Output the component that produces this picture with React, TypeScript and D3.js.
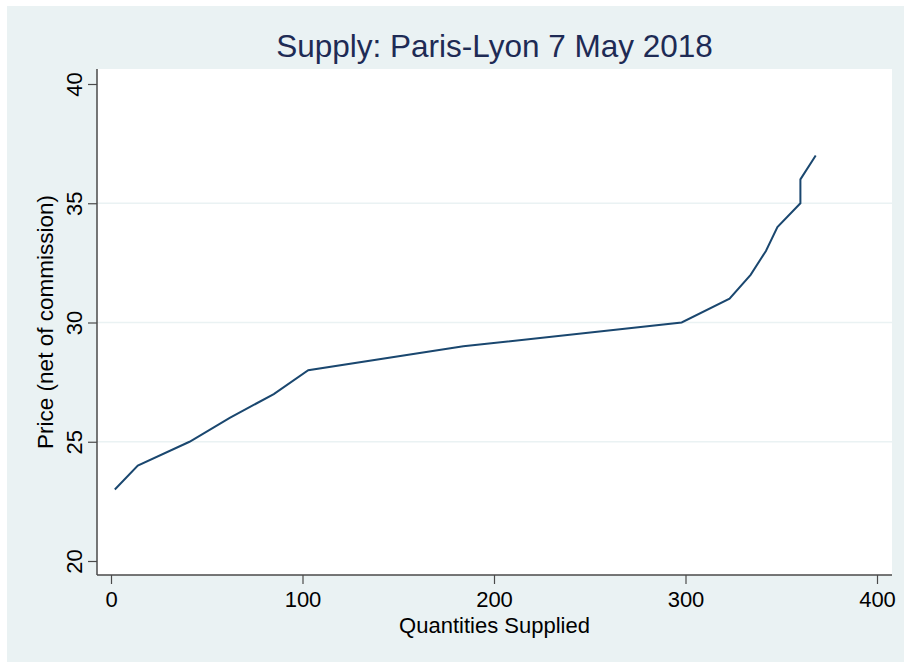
import React, { useRef, useEffect } from "react";
import * as d3 from "d3";

// supply schedule
const quantities = [2, 14, 41, 62, 85, 103, 184, 298, 323, 334, 342, 348, 360, 360, 368];
const prices = [23, 24, 25, 26, 27, 28, 29, 30, 31, 32, 33, 34, 35, 36, 37];

const xTicks = [0, 100, 200, 300, 400];
const yTicks = [20, 25, 30, 35, 40];
const gridTicks = [25, 30, 35];

const title = "Supply: Paris-Lyon 7 May 2018";
const xTitle = "Quantities Supplied";
const yTitle = "Price (net of commission)";

const W = 904;
const H = 662;
const plot = { left: 97, top: 69, right: 892, bottom: 575 };
const font = "'Liberation Sans', Arial, Helvetica, sans-serif";

const App: React.FC = () => {
  const svgRef = useRef<SVGSVGElement>(null);

  useEffect(() => {
    if (svgRef.current === null) return;
    const svg = d3.select(svgRef.current);
    svg.selectAll("*").remove();

    const x = d3.scaleLinear().domain([0, 400]).range([111, 877]);
    const y = d3.scaleLinear().domain([20, 40]).range([561, 84]);

    // outer background and plot region
    svg.append("rect").attr("width", W).attr("height", H).attr("fill", "#ffffff");
    svg
      .append("rect")
      .attr("x", 7)
      .attr("y", 6)
      .attr("width", W - 7)
      .attr("height", H - 6)
      .attr("fill", "#eaf2f3");
    svg
      .append("rect")
      .attr("x", plot.left)
      .attr("y", plot.top)
      .attr("width", plot.right - plot.left)
      .attr("height", plot.bottom - plot.top)
      .attr("fill", "#ffffff");

    // gridlines
    svg
      .append("g")
      .selectAll("line")
      .data(gridTicks)
      .enter()
      .append("line")
      .attr("x1", plot.left)
      .attr("x2", plot.right)
      .attr("y1", d => y(d))
      .attr("y2", d => y(d))
      .attr("stroke", "#eaf2f3")
      .attr("stroke-width", 1.5);

    // the supply curve
    const pts = quantities.map((q, i) => [q, prices[i]] as [number, number]);
    const line = d3
      .line<[number, number]>()
      .x(d => x(d[0]))
      .y(d => y(d[1]));
    svg
      .append("path")
      .attr("d", line(pts) as string)
      .attr("fill", "none")
      .attr("stroke", "#1a476f")
      .attr("stroke-width", 2)
      .attr("stroke-linejoin", "miter");

    // x axis
    const xAxis = svg
      .append("g")
      .attr("transform", `translate(0, ${plot.bottom})`)
      .call(
        d3
          .axisBottom(x)
          .tickValues(xTicks)
          .tickSize(9)
          .tickPadding(8)
          .tickFormat(d3.format("d"))
      );
    xAxis
      .select(".domain")
      .attr("d", `M${plot.left},0H${plot.right}`)
      .attr("stroke", "#4a4a4a")
      .attr("stroke-width", 1.5);
    xAxis.selectAll(".tick line").attr("stroke", "#4a4a4a").attr("stroke-width", 1.2);
    xAxis
      .selectAll(".tick text")
      .attr("font-family", font)
      .attr("font-size", 22)
      .attr("fill", "#000")
      .attr("dy", null)
      .attr("y", 32);

    // y axis
    const yAxis = svg
      .append("g")
      .attr("transform", `translate(${plot.left}, 0)`)
      .call(d3.axisLeft(y).tickValues(yTicks).tickSize(9).tickFormat(d3.format("d")));
    yAxis
      .select(".domain")
      .attr("d", `M0,${plot.top}V${plot.bottom}`)
      .attr("stroke", "#4a4a4a")
      .attr("stroke-width", 1.5);
    yAxis.selectAll(".tick line").attr("stroke", "#4a4a4a").attr("stroke-width", 1.2);
    yAxis
      .selectAll(".tick text")
      .attr("font-family", font)
      .attr("font-size", 22)
      .attr("fill", "#000")
      .attr("x", null)
      .attr("dy", null)
      .attr("text-anchor", "middle")
      .attr("transform", "translate(-15, 0) rotate(-90)");

    svg.selectAll(".tick text").attr("font-family", font);
    svg.selectAll("g").attr("font-family", font);

    // titles
    svg
      .append("text")
      .attr("x", (plot.left + plot.right) / 2)
      .attr("y", 57)
      .attr("text-anchor", "middle")
      .attr("font-family", font)
      .attr("font-size", 31.5)
      .attr("fill", "#1e2b55")
      .text(title);

    svg
      .append("text")
      .attr("x", (plot.left + plot.right) / 2)
      .attr("y", 633)
      .attr("text-anchor", "middle")
      .attr("font-family", font)
      .attr("font-size", 22)
      .attr("fill", "#000")
      .text(xTitle);

    svg
      .append("text")
      .attr("transform", `translate(53, ${(plot.top + plot.bottom) / 2}) rotate(-90)`)
      .attr("text-anchor", "middle")
      .attr("font-family", font)
      .attr("font-size", 22.5)
      .attr("fill", "#000")
      .text(yTitle);
  }, []);

  return (
    <svg
      ref={svgRef}
      width={W}
      height={H}
      style={{ position: "absolute", left: 0, top: 0, display: "block" }}
    />
  );
};

export default App;
